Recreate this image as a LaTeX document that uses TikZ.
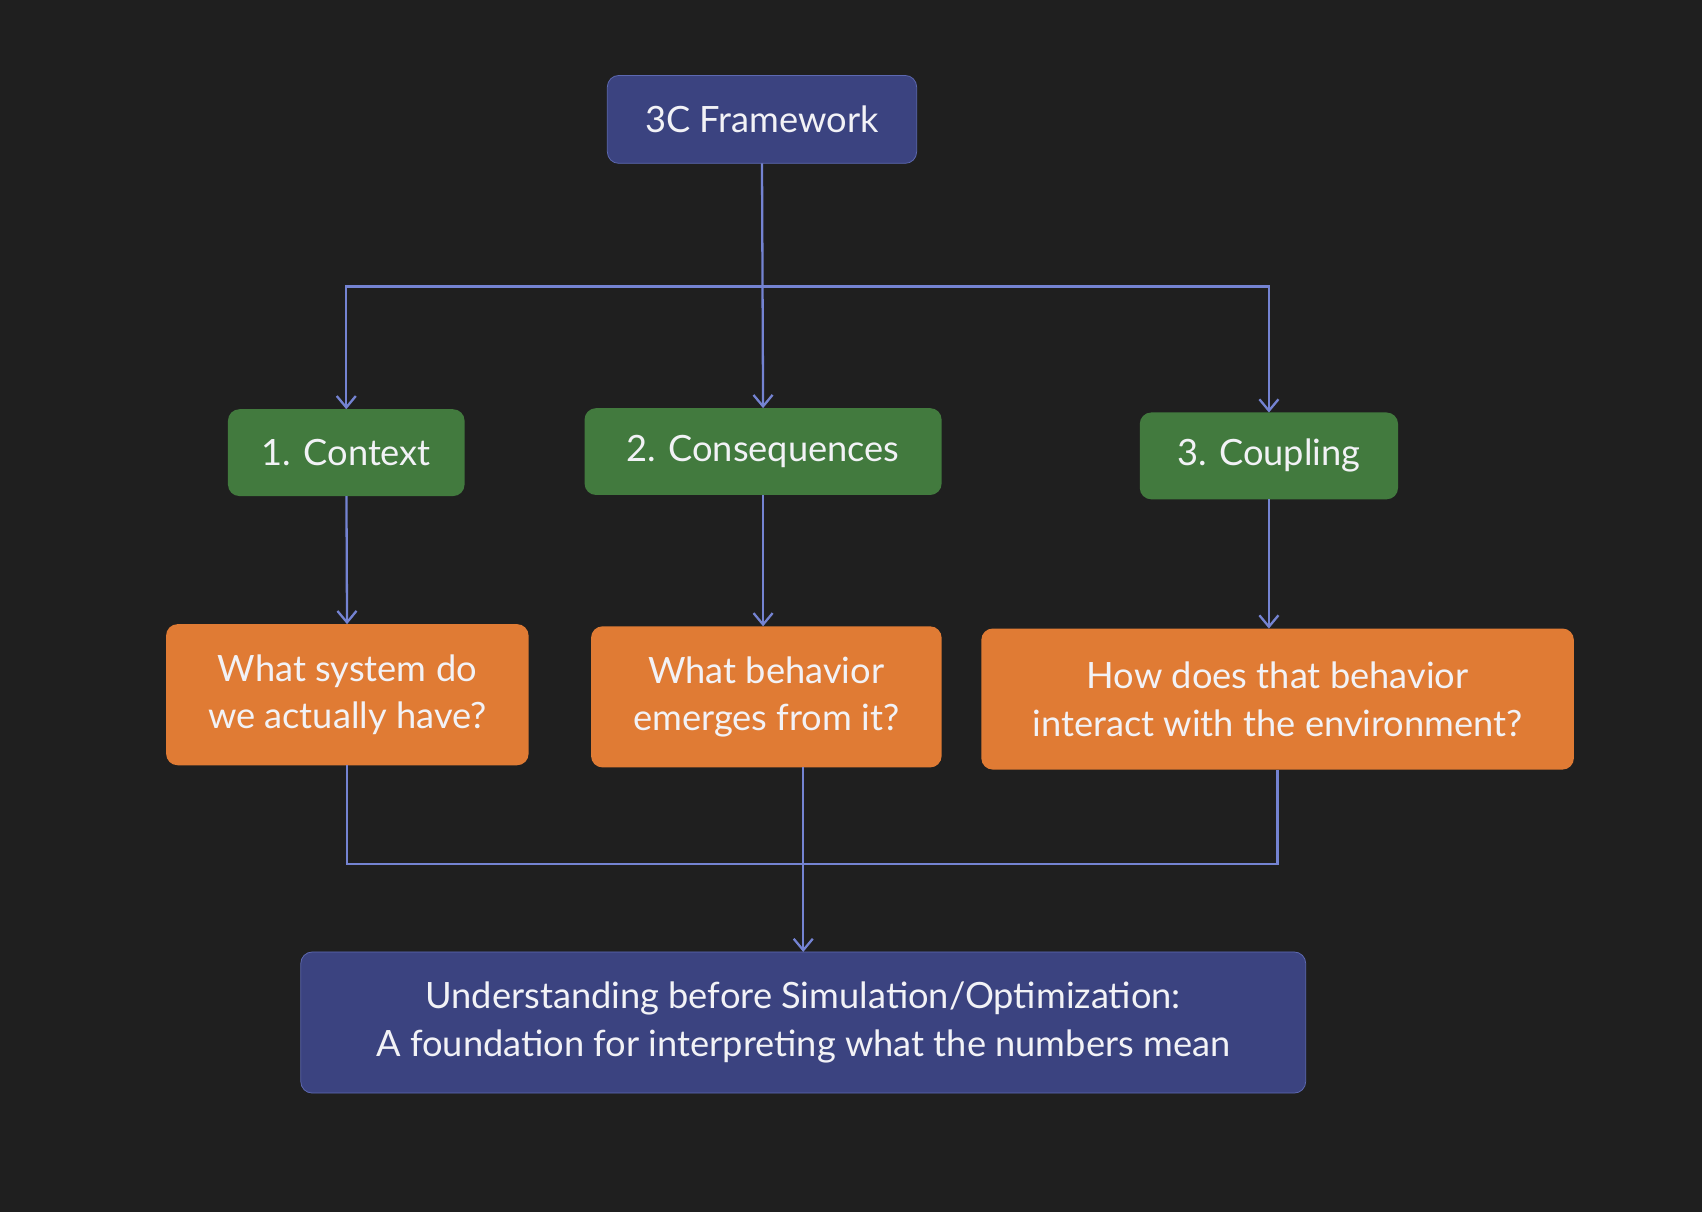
\documentclass[tikz,border=0pt]{standalone}
\usepackage{fontspec}
\setmainfont{Lato}
\usetikzlibrary{positioning,arrows.meta}
\definecolor{bgc}{HTML}{1F1F1F}
\definecolor{bluebox}{HTML}{3B4380}
\definecolor{greenbox}{HTML}{427A3E}
\definecolor{orangebox}{HTML}{E07B34}
\definecolor{wire}{HTML}{7483D2}
\definecolor{txt}{HTML}{F2F2F6}
\begin{document}
\begin{tikzpicture}
[x=0.02cm,y=-0.02cm,
 every node/.style={rounded corners=6pt,text=txt,inner sep=0mm,outer sep=0mm,align=center,font=\fontsize{19}{25}\selectfont},
 head/.style={fill=bluebox,draw=wire!60!bluebox},
 stage/.style={fill=greenbox,minimum height=1.6cm},
 ask/.style={fill=orangebox,minimum height=2.6cm},
 link/.style={draw=wire,line width=1.2pt,-{Straight Barb[length=6pt,width=10pt]}}]
\fill[bgc] (0,0) rectangle (1568,1117);
\useasboundingbox (0,0) rectangle (1568,1117);
\node[head,minimum width=5.7cm,minimum height=1.62cm] (top) at (702,110) {3C Framework};
\node[stage,minimum width=4.36cm] (ctx) at (319,417) {1. Context};
\node[stage,minimum width=6.58cm] (cons) at (703,416) {2. Consequences};
\node[stage,minimum width=4.76cm] (coup) at (1169,420) {3. Coupling};
\node[ask,minimum width=6.68cm] (q1) at (320,640) {What system do\\we actually have?};
\node[ask,minimum width=6.46cm] (q2) at (706,642) {What behavior\\emerges from it?};
\node[ask,minimum width=10.92cm] (q3) at (1177,644) {How does that behavior\\interact with the environment?};
\node[head,minimum width=18.52cm,minimum height=2.6cm] (end) at (740,942)
  {Understanding before Simulation/Optimization:\\A foundation for interpreting what the numbers mean};
\coordinate (split) at (702,264);
\coordinate (merge) at (740,796);
\draw[link] (top.south) -- (cons.north);
\draw[link] (split) -| (ctx.north);
\draw[link] (split) -| (coup.north);
\draw[link] (ctx) -- (q1);
\draw[link] (cons.south) -- (cons.south |- q2.north);
\draw[link] (coup) -- (coup |- q3.north);
\draw[link,-] (q1.south) |- (merge);
\draw[link,-] (q3.south) |- (merge);
\draw[link] (q2.south -| merge) -- (end.north);
\end{tikzpicture}
\end{document}
